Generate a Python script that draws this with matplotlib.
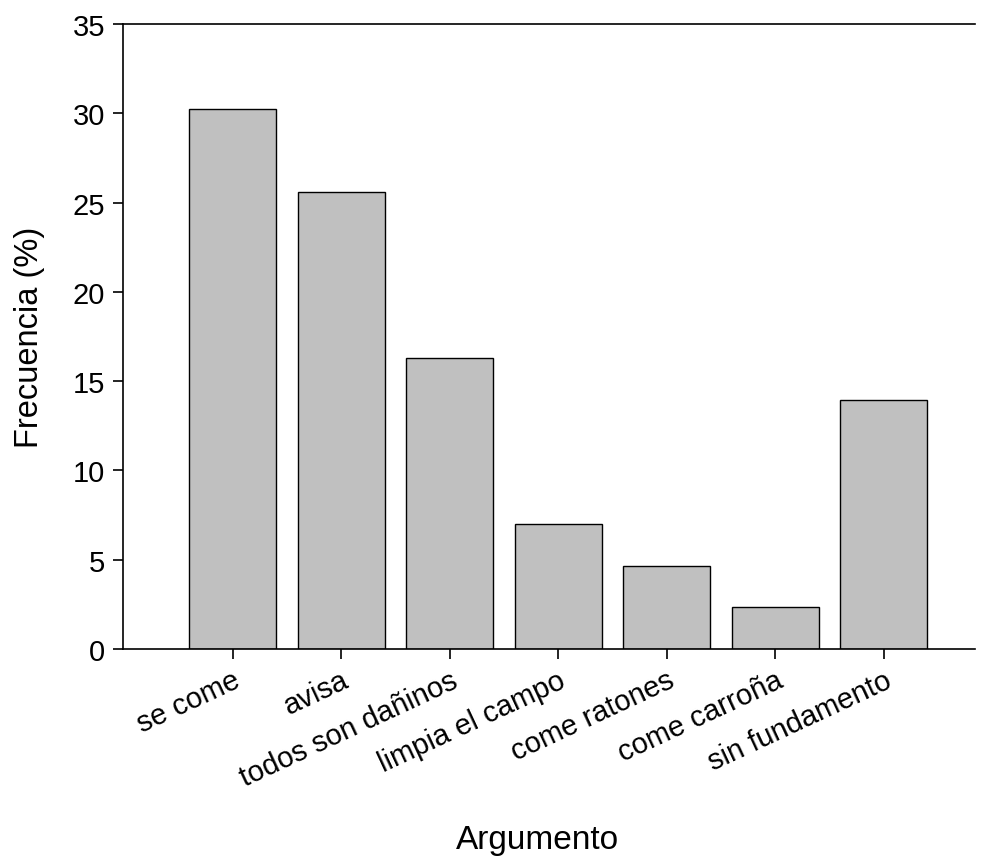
import matplotlib

matplotlib.use("Agg")
import matplotlib.pyplot as plt

plt.rcParams["font.family"] = ["Liberation Sans", "DejaVu Sans"]

categories = [
    "se come",
    "avisa",
    "todos son dañinos",
    "limpia el campo",
    "come ratones",
    "come carroña",
    "sin fundamento",
]
frequency = [30.23, 25.58, 16.28, 6.98, 4.65, 2.33, 13.95]
y_ticks = [0, 5, 10, 15, 20, 25, 30, 35]

fig = plt.figure(figsize=(9.82, 8.62), dpi=100)
ax = fig.add_axes([123 / 982, 212 / 862, 852 / 982, 625 / 862])

x = range(len(categories))
ax.bar(x, frequency, width=0.8, color="#c0c0c0", edgecolor="black", linewidth=1.0)

ax.set_xlim(-1.01, 6.84)
ax.set_ylim(0, 35)
ax.set_yticks(y_ticks)
ax.set_xticks(list(x))
ax.set_xticklabels(categories, rotation=25, ha="right", rotation_mode="anchor")

ax.spines["right"].set_visible(False)
for side in ("left", "bottom", "top"):
    ax.spines[side].set_linewidth(1.2)

ax.tick_params(axis="both", direction="out", length=7, width=1.2, labelsize=21)
ax.tick_params(axis="x", pad=5)
ax.tick_params(axis="y", pad=6)

ax.set_ylabel("Frecuencia (%)", fontsize=23.5, labelpad=20)
ax.set_xlabel("Argumento", fontsize=24)
ax.xaxis.set_label_coords(0.486, -0.28)

fig.savefig("out.png", dpi=100, facecolor="white")
plt.close(fig)
